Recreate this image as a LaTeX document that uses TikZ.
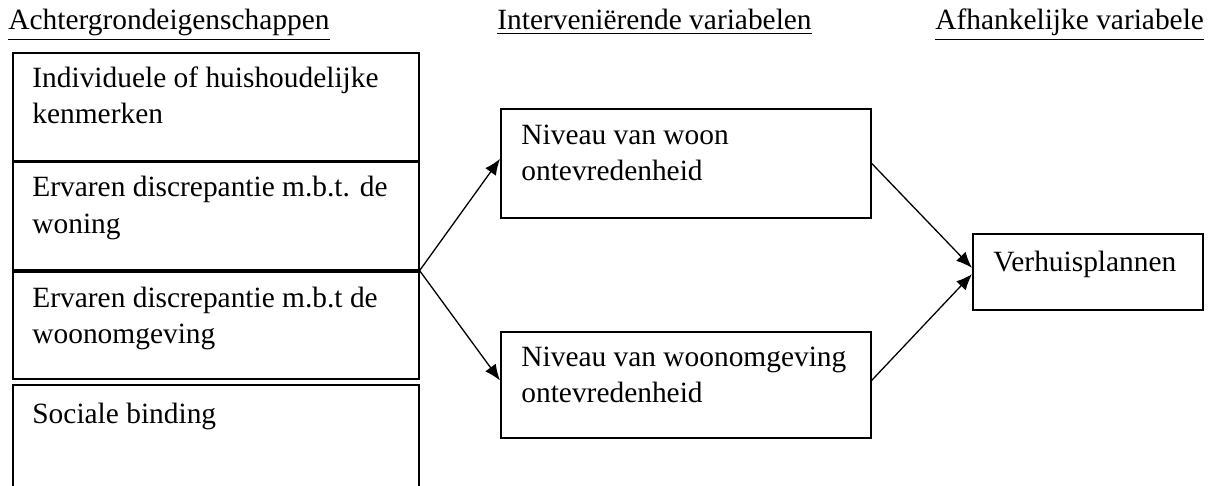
\documentclass[tikz,border=0pt]{standalone}
\usepackage{fontspec}
\setmainfont{Liberation Serif}
\usetikzlibrary{arrows.meta,calc}
\begin{document}
\begin{tikzpicture}[x=0.5pt,y=-0.5pt,
  box/.style={draw,line width=0.8pt,rectangle,inner sep=0pt,anchor=north west},
  txt/.style={inner sep=0pt,anchor=base west,align=left,font={\fontsize{14.7pt}{18pt}\selectfont}},
  arr/.style={line width=0.65pt,-{Latex[length=8pt,width=6.5pt]}}]
\useasboundingbox (0,0) rectangle (1213,486);
\clip (0,0) rectangle (1213,486);
% headers
\node[txt] (h1) at (8,30) {\underline{Achtergrondeigenschappen}};
\node[txt] (h2) at (497,30) {\underline{Interveni\"erende variabelen}};
\node[txt] (h3) at (935,30) {\underline{Afhankelijke variabele}};
% left boxes
\node[box,minimum width=203pt,minimum height=54pt] (b1) at (12,52) {};
\node[box,minimum width=203pt,minimum height=54pt] (b2) at (12,161) {};
\node[box,minimum width=203pt,minimum height=53.5pt] (b3) at (12,271) {};
\node[box,minimum width=203pt,minimum height=65pt] (b4) at (12,384) {};
\node[txt] (t1) at (32,124) {Individuele of huishoudelijke\\kenmerken};
\node[txt] (t2) at (32,233) {Ervaren discrepantie m.b.t. de\\woning};
\node[txt] (t3) at (32,343) {Ervaren discrepantie m.b.t de\\woonomgeving};
\node[txt] (t4) at (32,423) {Sociale binding};
% middle boxes
\node[box,minimum width=185pt,minimum height=54.5pt] (m1) at (500,108) {};
\node[box,minimum width=185pt,minimum height=53pt] (m2) at (500,331) {};
\node[txt] (tm1) at (521,181) {Niveau van woon\\ontevredenheid};
\node[txt] (tm2) at (521,402) {Niveau van woonomgeving\\ontevredenheid};
% right box
\node[box,minimum width=115pt,minimum height=38pt] (r) at (972,233) {};
\node[txt] (tr) at (993,271) {Verhuisplannen};
% arrows
\coordinate (s) at (b2.south east);
\draw[arr] (s) -- ($(m1.north west)!0.46!(m1.south west)$);
\draw[arr] (s) -- ($(m2.north west)!0.46!(m2.south west)$);
\draw[arr] (m1.east) -- ($(r.north west)!0.45!(r.south west)$);
\draw[arr] ($(m2.north east)!0.46!(m2.south east)$) -- ($(r.north west)!0.53!(r.south west)$);
\end{tikzpicture}
\end{document}
